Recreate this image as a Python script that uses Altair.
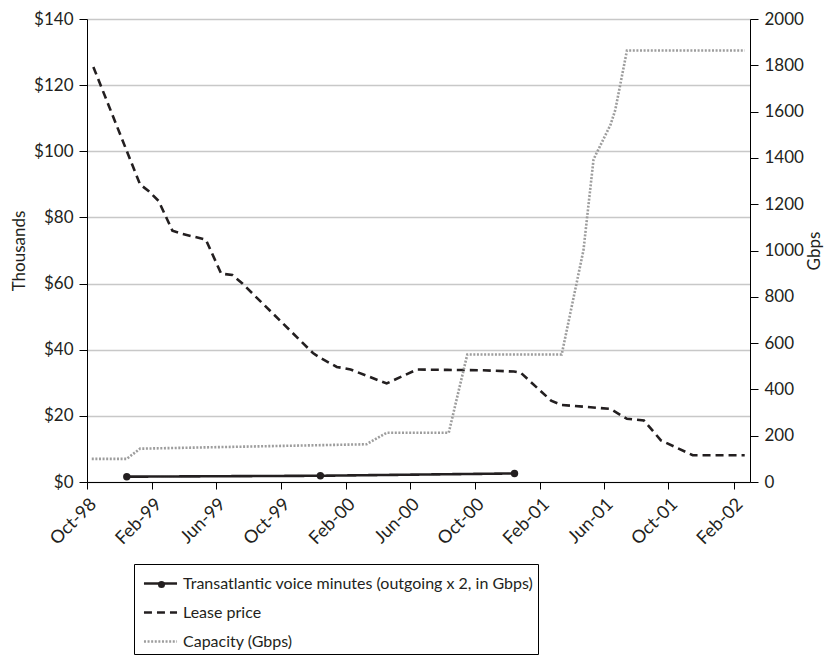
import altair as alt
import pandas as pd

S_VOICE = "Transatlantic voice minutes (outgoing x 2, in Gbps)"
S_LEASE = "Lease price"
S_CAP = "Capacity (Gbps)"
series_order = [S_VOICE, S_LEASE, S_CAP]

lease_dates = ["1998-10-13", "1999-01-09", "1999-01-25", "1999-02-13", "1999-03-11",
               "1999-03-30", "1999-05-13", "1999-06-11", "1999-07-02", "1999-07-21",
               "1999-12-01", "1999-12-14", "2000-01-15", "2000-02-10", "2000-04-18",
               "2000-06-14", "2000-08-10", "2000-10-12", "2000-12-14", "2000-12-27",
               "2001-02-22", "2001-03-14", "2001-06-14", "2001-07-15", "2001-08-16",
               "2001-09-17", "2001-11-16", "2002-02-22"]
lease_values = [125.5, 90, 88, 85, 76, 75, 73.3, 63, 62.6, 60,
                39, 37.6, 34.8, 34, 29.8, 34, 33.9, 33.8, 33.4, 33,
                24.6, 23.3, 22.1, 19.1, 18.6, 12.6, 8.1, 8.1]

capacity_dates = ["1998-10-10", "1998-12-15", "1999-01-09", "1999-06-14", "2000-03-11",
                  "2000-04-18", "2000-08-13", "2000-09-17", "2001-03-14", "2001-04-24",
                  "2001-05-13", "2001-05-19", "2001-06-14", "2001-06-23", "2001-07-15",
                  "2002-02-22"]
capacity_values = [100, 100, 144, 151, 163, 213, 213, 551, 551, 1001,
                   1393, 1422, 1543, 1607, 1864, 1864]

voice_dates = ["1998-12-15", "1999-12-15", "2000-12-15"]
voice_values = [23, 27, 37]

x_tick_dates = ["1998-10-01", "1999-02-01", "1999-06-01", "1999-10-01", "2000-02-01",
                "2000-06-01", "2000-10-01", "2001-02-01", "2001-06-01", "2001-10-01",
                "2002-02-01"]
x_domain = ["1998-10-01", "2002-03-04"]
left_ticks = [0, 20, 40, 60, 80, 100, 120, 140]
right_ticks = [0, 200, 400, 600, 800, 1000, 1200, 1400, 1600, 1800, 2000]

df = pd.concat([
    pd.DataFrame({"date": lease_dates, "value": lease_values, "series": S_LEASE}),
    pd.DataFrame({"date": capacity_dates, "value": capacity_values, "series": S_CAP}),
    pd.DataFrame({"date": voice_dates, "value": voice_values, "series": S_VOICE}),
], ignore_index=True)

INK = "#231f20"
FONT = "Lato"

x_enc = alt.X("date:T", title=None,
              scale=alt.Scale(type="utc", domain=x_domain, nice=False),
              axis=alt.Axis(values=x_tick_dates, format="%b-%y", labelAngle=315,
                            labelFontSize=18, tickSize=7, labelPadding=6,
                            domainColor="black", tickColor="black", grid=False))

main_legend = alt.Legend(
    orient="none", legendX=47, legendY=545, title=None,
    symbolType="M-1.2,0H1.2", symbolSize=760, symbolStrokeWidth=2.6,
    labelFont=FONT, labelFontSize=16, labelColor=INK, labelLimit=0,
    rowPadding=5, padding=4, strokeColor="black", fillColor="white",
    symbolOffset=7, labelOffset=7)

color_enc = alt.Color("series:N", title=None,
                      scale=alt.Scale(domain=series_order, range=[INK, INK, "#9d9d9d"]),
                      legend=main_legend)
dash_enc = alt.StrokeDash("series:N", title=None,
                          scale=alt.Scale(domain=series_order, range=[[1, 0], [8, 5], [2, 1.6]]),
                          legend=main_legend)

base = alt.Chart(df)

left = base.transform_filter(alt.datum.series == S_LEASE).mark_line(strokeWidth=2.6).encode(
    x=x_enc,
    y=alt.Y("value:Q", scale=alt.Scale(domain=[0, 140], nice=False),
            axis=alt.Axis(values=left_ticks, format="$,.0f", title="Thousands", orient="left",
                          grid=True, gridColor="#c8c8c8", gridWidth=1.5, tickSize=8,
                          labelPadding=6, titlePadding=5,
                          domainColor="black", tickColor="black")),
    color=color_enc,
    strokeDash=dash_enc,
)

y_right = alt.Y("value:Q", scale=alt.Scale(domain=[0, 2000], nice=False),
                axis=alt.Axis(values=right_ticks, format="d", title="Gbps", orient="right",
                              grid=False, tickSize=8, labelPadding=6, titlePadding=3,
                              titleAngle=270, titleBaseline="top",
                              domainColor="black", tickColor="black"))

right_lines = base.transform_filter(alt.datum.series != S_LEASE).mark_line(strokeWidth=2.6).encode(
    x=x_enc,
    y=y_right,
    color=color_enc,
    strokeDash=dash_enc,
)

dot_legend = alt.Legend(
    orient="none", legendX=70.5, legendY=561.5, title=None,
    symbolType="circle", symbolSize=50, symbolFillColor=INK, symbolStrokeWidth=0,
    labelFontSize=1, labelOpacity=0, labelLimit=1, padding=0,
    strokeColor="transparent", fillColor="transparent")

right_points = base.transform_filter(alt.datum.series == S_VOICE).mark_point(
    filled=True, size=55, color=INK, opacity=1).encode(
    x=x_enc,
    y=y_right,
    shape=alt.Shape("series:N", scale=alt.Scale(domain=[S_VOICE], range=["circle"]),
                    legend=dot_legend),
)

chart = alt.layer(left, alt.layer(right_lines, right_points)).resolve_scale(
    y="independent"
).properties(
    width=663, height=463,
    autosize=alt.AutoSizeParams(type="none"),
    padding={"left": 79, "top": 11, "right": 74, "bottom": 173},
).configure_view(
    strokeWidth=0
).configure_axis(
    labelFont=FONT, titleFont=FONT, labelFontSize=17, titleFontSize=17,
    labelColor=INK, titleColor=INK, titleFontWeight="normal"
)

chart.save("out.html", embed_options={"renderer": "svg", "actions": False})
